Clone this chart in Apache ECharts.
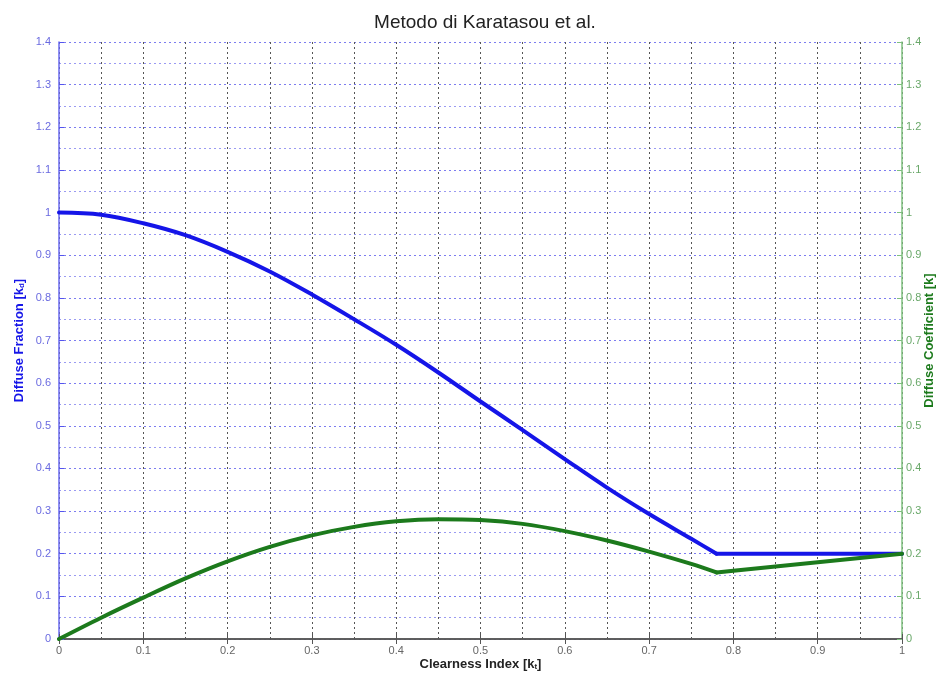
<!DOCTYPE html>
<html>
<head>
<meta charset="utf-8">
<script src="https://cdn.jsdelivr.net/npm/echarts@6/dist/echarts.min.js"></script>
<style>
    html, body { margin: 0; padding: 0; background: #fff; }
    #chart { width: 936px; height: 677px; }
</style>
</head>
<body>
<div id="chart"></div>
<script>
// clearness index kt
var kt = [0, 0.05, 0.1, 0.15, 0.2, 0.25, 0.3, 0.35, 0.4, 0.45, 0.5, 0.55, 0.6, 0.65, 0.7, 0.75, 0.78, 0.8, 0.85, 0.9, 0.95, 1];
// diffuse fraction kd (blue, left axis)
var kd = [1.0, 0.995, 0.975, 0.947, 0.908, 0.862, 0.808, 0.75, 0.69, 0.625, 0.557, 0.49, 0.422, 0.355, 0.293, 0.235, 0.2, 0.2, 0.2, 0.2, 0.2, 0.2];
// diffuse coefficient k (green, right axis)
var kc = [0, 0.05, 0.097, 0.142, 0.182, 0.216, 0.243, 0.263, 0.276, 0.281, 0.279, 0.27, 0.253, 0.231, 0.205, 0.176, 0.156, 0.16, 0.17, 0.18, 0.19, 0.2];
// kt where the model switches to the constant branch
var ktBreak = 0.78;

var chart = echarts.init(document.getElementById('chart'));

function pairs(xs, ys, from, to) {
    var out = [];
    for (var i = 0; i < xs.length; i++) {
        if (xs[i] >= from && xs[i] <= to) {
            out.push([xs[i], ys[i]]);
        }
    }
    return out;
}

var blue = '#1515e8';
var green = '#1c7a1c';
var fontFam = 'Liberation Sans, Arial, sans-serif';

function lineSeries(name, yIdx, color, data, smooth) {
    return {
        name: name,
        type: 'line',
        xAxisIndex: 0,
        yAxisIndex: yIdx,
        symbol: 'none',
        smooth: smooth,
        lineStyle: { color: color, width: 4, cap: 'round', join: 'round' },
        data: data
    };
}

var option = {
    backgroundColor: '#fff',
    animation: false,
    title: {
        text: 'Metodo di Karatasou et al.',
        left: 480,
        textAlign: 'center',
        top: 8,
        textStyle: { fontFamily: fontFam, fontSize: 19, fontWeight: 'normal', color: '#222' }
    },
    grid: { left: 59, right: 34, top: 42, bottom: 38, outerBoundsMode: 'none' },
    xAxis: [
        {
            type: 'value',
            min: 0, max: 1, interval: 0.1,
            name: 'Clearness Index [k{sub|t}]',
            nameLocation: 'middle',
            nameGap: 18,
            nameMoveOverlap: false,
            nameTextStyle: {
                fontFamily: fontFam, fontSize: 13, fontWeight: 'bold', color: '#222',
                rich: { sub: { fontSize: 8, fontWeight: 'bold', color: '#222', verticalAlign: 'bottom', padding: [6, 0, 0, 0] } }
            },
            axisLine: { lineStyle: { color: '#555', width: 1.5 } },
            axisTick: { inside: true, length: 5, lineStyle: { color: '#555' } },
            axisLabel: { color: '#666', fontSize: 11, fontFamily: fontFam, margin: 6 },
            splitLine: { show: true, lineStyle: { color: '#555', type: [2, 3], width: 1 } },
            minorTick: { show: false, splitNumber: 2 },
            minorSplitLine: { show: true, lineStyle: { color: '#555', type: [2, 3], width: 1 } }
        },
        {
            type: 'value',
            position: 'top',
            min: 0, max: 1, interval: 0.1,
            axisLine: { show: true, lineStyle: { color: '#555', width: 1.5 } },
            axisTick: { show: true, inside: true, length: 5, lineStyle: { color: '#555' } },
            axisLabel: { show: false },
            splitLine: { show: false }
        }
    ],
    yAxis: [
        {
            type: 'value',
            position: 'left',
            min: 0, max: 1.4, interval: 0.1,
            name: 'Diffuse Fraction [k{sub|d}]',
            nameLocation: 'middle',
            nameRotate: 90,
            nameGap: 33,
            nameMoveOverlap: false,
            nameTextStyle: {
                fontFamily: fontFam, fontSize: 13, fontWeight: 'bold', color: blue,
                rich: { sub: { fontSize: 8, fontWeight: 'bold', color: blue, verticalAlign: 'bottom', padding: [6, 0, 0, 0] } }
            },
            axisLine: { show: true, onZero: false, lineStyle: { color: '#6a6af0', width: 1.5 } },
            axisTick: { show: true, inside: true, length: 5, lineStyle: { color: '#5555ee' } },
            axisLabel: { color: '#6a6ae0', fontSize: 11, fontFamily: fontFam, margin: 8 },
            splitLine: { show: true, lineStyle: { color: '#7c7cf0', type: [2, 3], width: 1 } },
            minorTick: { show: false, splitNumber: 2 },
            minorSplitLine: { show: true, lineStyle: { color: '#9a9af2', type: [2, 3], width: 1 } }
        },
        {
            type: 'value',
            position: 'right',
            min: 0, max: 1.4, interval: 0.1,
            name: 'Diffuse Coefficient [k]',
            nameLocation: 'middle',
            nameRotate: 90,
            nameGap: 21,
            nameMoveOverlap: false,
            nameTextStyle: { fontFamily: fontFam, fontSize: 13, fontWeight: 'bold', color: green },
            axisLine: { show: true, onZero: false, lineStyle: { color: '#7fc07f', width: 1.5 } },
            axisTick: { show: true, inside: true, length: 5, lineStyle: { color: '#7fc07f' } },
            axisLabel: { color: '#6aa86a', fontSize: 11, fontFamily: fontFam, margin: 4 },
            splitLine: { show: false }
        }
    ],
    series: [
        lineSeries('kd', 0, blue, pairs(kt, kd, 0, ktBreak), 0.35),
        lineSeries('kd', 0, blue, pairs(kt, kd, ktBreak, 1), false),
        lineSeries('k', 1, green, pairs(kt, kc, 0, ktBreak), 0.35),
        lineSeries('k', 1, green, pairs(kt, kc, ktBreak, 1), false)
    ]
};
chart.setOption(option);
</script>
</body>
</html>
